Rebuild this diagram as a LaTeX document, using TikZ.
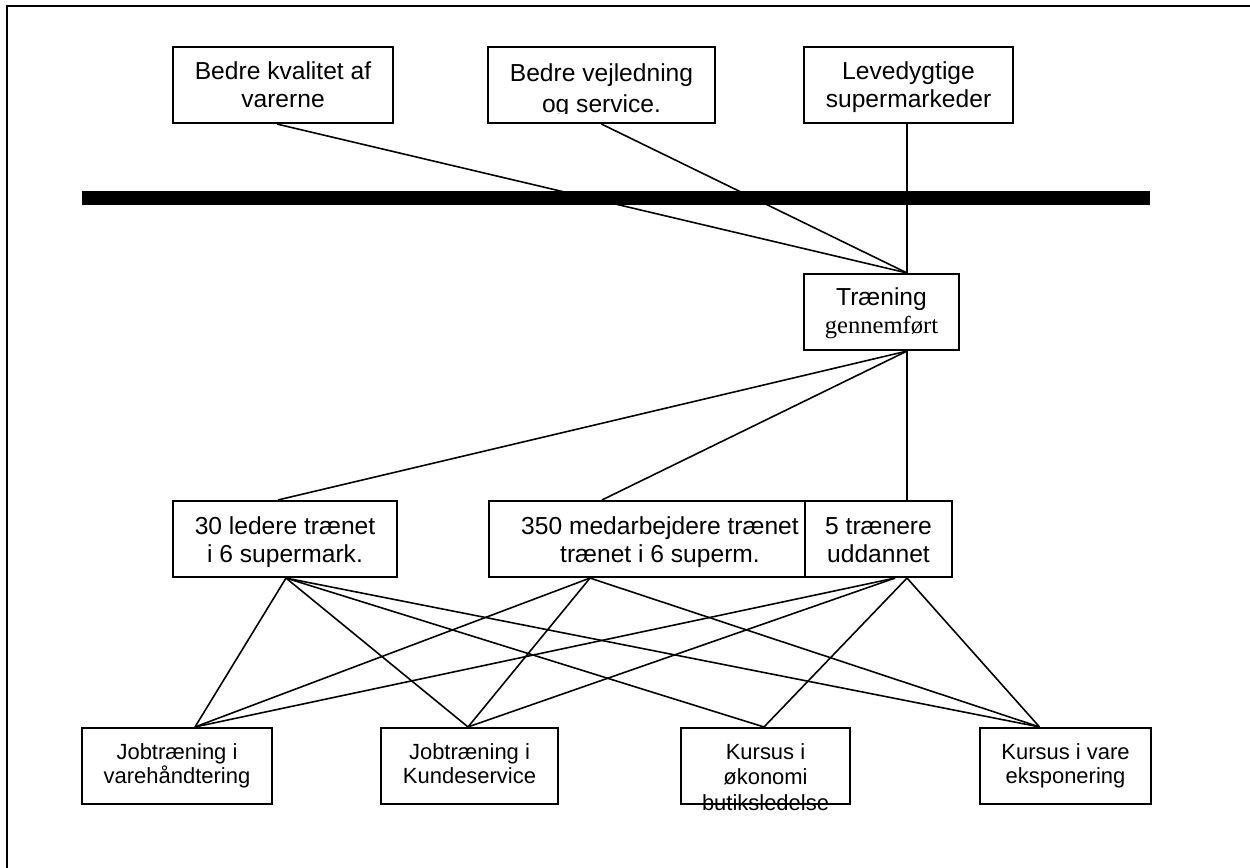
\documentclass[tikz,border=0pt]{standalone}
\usepackage{fontspec}
\setmainfont{Liberation Sans}
\newfontfamily\timesfont{Liberation Serif}
\usetikzlibrary{calc}
\begin{document}
\begin{tikzpicture}[x=0.02cm, y=-0.02cm,
  box/.style={draw, line width=1.2pt, inner sep=0pt,
    minimum width=#1*0.02cm, minimum height=76*0.02cm},
  txt/.style={inner sep=0pt, align=center, font=\fontsize{14}{15.9}\selectfont},
  smalltxt/.style={inner sep=0pt, align=center, font=\fontsize{12.5}{14}\selectfont},
  link/.style={line width=0.9pt},
  frame/.style={line width=1.3pt}]
\useasboundingbox (0,0) rectangle (1250,867);

% page frame (top and left edges)
\draw[frame] (7,880) -- (7,6) -- (1260,6);

% thick dividing bar
\fill (82,191) rectangle (1150,205);

% goal boxes
\node[box=220] (q1) at (283,85) {};
\node[box=227] (q2) at (601.5,85) {};
\node[box=209] (q3) at (908.5,85) {};
% result box
\node[box=155] (tr) at (881.5,312) {};
% output boxes
\node[box=224] (m1) at (285,539) {};
\node[box=316] (m2) at (647,539) {};
\node[box=147] (m3) at (878.5,539) {};
% activity boxes
\node[box=190] (b1) at (177,766) {};
\node[box=177] (b2) at (469.5,766) {};
\node[box=169] (b3) at (765.5,766) {};
\node[box=171] (b4) at (1065.5,766) {};

% attachment points
\coordinate (q1s) at ($(q1.south)+(-6,0)$);
\coordinate (q3s) at ($(q3.south)+(-1.5,0)$);
\coordinate (trn) at ($(tr.north)+(25.5,0)$);
\coordinate (trs) at ($(tr.south)+(25.5,0)$);
\coordinate (m1n) at ($(m1.north)+(-7,0)$);
\coordinate (m2n) at ($(m2.north)+(-45,0)$);
\coordinate (m3n) at ($(m3.north)+(28.5,0)$);
\coordinate (m1s) at ($(m1.south)+(1,0)$);
\coordinate (m2s) at ($(m2.south)+(-57,0)$);
\coordinate (m3sl) at ($(m3.south)+(16.5,0)$);
\coordinate (m3sr) at ($(m3.south)+(28.5,0)$);
\coordinate (b1n) at ($(b1.north)+(18,0)$);
\coordinate (b2n) at ($(b2.north)+(-1.5,0)$);
\coordinate (b3n) at ($(b3.north)+(-1.5,0)$);
\coordinate (b4n) at ($(b4.north)+(-26,0)$);

% connectors
\draw[link] (q1s) -- (trn);
\draw[link] (q2.south) -- (trn);
\draw[link] (q3s) -- (trn);
\draw[link] (trs) -- (m1n);
\draw[link] (trs) -- (m2n);
\draw[link] (trs) -- (m3n);
\draw[link] (m1s) -- (b1n);
\draw[link] (m1s) -- (b2n);
\draw[link] (m1s) -- (b3n);
\draw[link] (m1s) -- (b4n);
\draw[link] (m2s) -- (b1n);
\draw[link] (m2s) -- (b2n);
\draw[link] (m2s) -- (b4n);
\draw[link] (m3sl) -- (b1n);
\draw[link] (m3sl) -- (b2n);
\draw[link] (m3sr) -- (b3n);
\draw[link] (m3sr) -- (b4n);

% texts
\node[txt] (q1t) at (283,85) {Bedre kvalitet af\\varerne};
\begin{scope}
  \clip (489,48) rectangle (714,113);
  \node[txt] (q2t) at (601.5,91) {Bedre vejledning\\[1.7pt]og service.};
\end{scope}
\node[txt] (q3t) at (908.5,87.5) {Levedygtige\\supermarkeder};
\node[txt] (trt) at (881.5,313.5) {Træning\\{\timesfont gennemført}};
\node[txt] (m1t) at (285,542.5) {30 ledere trænet\\i 6 supermark.};
\node[txt] (m2t) at (660,542.5) {350 medarbejdere trænet\\trænet i 6 superm.};
\node[txt] (m3t) at (878.5,540) {5 trænere\\uddannet};
\node[smalltxt] (b1t) at (177,766) {Jobtræning i\\varehåndtering};
\node[smalltxt] (b2t) at (469.5,763.5) {Jobtræning i\\Kundeservice};
\node[smalltxt, font=\fontsize{12.5}{14.7}\selectfont] (b3t) at (765.5,777) {Kursus i\\økonomi\\butiksledelse};
\node[smalltxt] (b4t) at (1065.5,766) {Kursus i vare\\eksponering};
\end{tikzpicture}
\end{document}
